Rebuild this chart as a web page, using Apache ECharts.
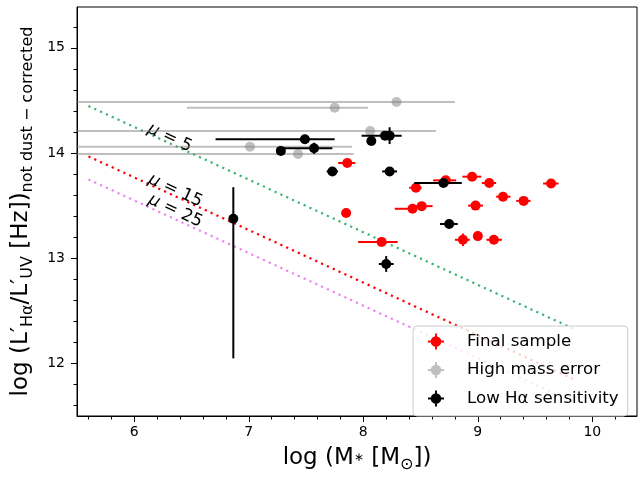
<!DOCTYPE html>
<html><head><meta charset="utf-8">
<script src="https://cdn.jsdelivr.net/npm/echarts@6/dist/echarts.min.js"></script>
<style>html,body{margin:0;padding:0;background:#fff}#c{width:644px;height:478px}</style>
</head><body><div id="c"></div><script>
// ---- Final sample (red) ----
const finalMass        = [7.86, 8.72, 8.46, 8.95, 9.10, 9.64, 9.22, 9.40, 7.85, 8.43, 8.51, 8.98, 8.16, 8.87, 9.00, 9.14];
const finalRatio       = [13.905, 13.74, 13.67, 13.775, 13.715, 13.71, 13.585, 13.545, 13.43, 13.47, 13.495, 13.50, 13.155, 13.175, 13.21, 13.175];
const finalMassErrLow  = [0.08, 0.11, 0.06, 0.085, 0.065, 0.07, 0.06, 0.065, 0, 0.155, 0.05, 0.065, 0.205, 0.07, 0, 0.065];
const finalMassErrHigh = [0.07, 0.09, 0.05, 0.08, 0.06, 0.065, 0.065, 0.06, 0, 0.035, 0.095, 0.065, 0.14, 0.06, 0, 0.07];
const finalRatioErrLow = [0, 0, 0, 0, 0, 0, 0, 0, 0, 0, 0, 0, 0, 0.06, 0, 0];
const finalRatioErrHigh= [0, 0, 0, 0, 0, 0, 0, 0, 0, 0, 0, 0, 0, 0.06, 0, 0];
// ---- High mass error (grey) ----
const highMass        = [8.29, 7.75, 8.06, 7.01, 7.43];
const highRatio       = [14.485, 14.43, 14.21, 14.06, 13.99];
const highMassErrLow  = [3.0, 1.29, 3.0, 2.0, 2.0];
const highMassErrHigh = [0.51, 0.29, 0.575, 0.89, 0.485];
const highRatioErrLow = [0, 0, 0, 0, 0];
const highRatioErrHigh= [0, 0, 0, 0, 0];
// ---- Low Halpha sensitivity (black) ----
const lowMass        = [7.49, 7.57, 7.28, 7.73, 8.23, 8.07, 8.19, 8.23, 8.70, 8.75, 8.20, 6.865];
const lowRatio       = [14.13, 14.045, 14.02, 13.825, 13.825, 14.115, 14.165, 14.165, 13.715, 13.325, 12.945, 13.375];
const lowMassErrLow  = [0.78, 0.275, 0, 0.05, 0.065, 0, 0.205, 0, 0.255, 0.08, 0.065, 0];
const lowMassErrHigh = [0.26, 0.16, 0, 0.05, 0.065, 0, 0.145, 0, 0.16, 0.075, 0.065, 0];
const lowRatioErrLow = [0, 0.053, 0, 0, 0, 0, 0, 0.08, 0, 0, 0.075, 1.327];
const lowRatioErrHigh= [0, 0.053, 0, 0, 0, 0, 0, 0.08, 0, 0, 0.075, 0.30];
// ---- magnification lines ----
const lineMass   = [5.6, 9.85];
const mu5Ratio   = [14.447, 12.322];
const mu15Ratio  = [13.968, 11.843];
const mu25Ratio  = [13.749, 11.624];
const muLabelMass  = [6.31, 6.36, 6.36];
const muLabelRatio = [14.144, 13.643, 13.45];
const muLabelText  = ['5', '15', '25'];
// ---- ticks ----
const xMajorTicks = [6, 7, 8, 9, 10];
const xMinorTicks = [5.6, 5.8, 6.2, 6.4, 6.6, 6.8, 7.2, 7.4, 7.6, 7.8, 8.2, 8.4, 8.6, 8.8, 9.2, 9.4, 9.6, 9.8, 10.2];
const yMajorTicks = [12, 13, 14, 15];
const yMinorTicks = [11.6, 11.8, 12.2, 12.4, 12.6, 12.8, 13.2, 13.4, 13.6, 13.8, 14.2, 14.4, 14.6, 14.8, 15.2];

const FONT = 'DejaVu Sans';

function build(mass, ratio, mlo, mhi, rlo, rhi) {
  return mass.map((m, i) => [m, ratio[i], m - mlo[i], m + mhi[i], ratio[i] - rlo[i], ratio[i] + rhi[i]]);
}
function makeRender(color) {
  return function (params, api) {
    const cs = params.coordSys;
    const X0 = cs.x, X1 = cs.x + cs.width, Y0 = cs.y, Y1 = cs.y + cs.height;
    const cl = (v, a, b) => Math.max(a, Math.min(b, v));
    const c = api.coord([api.value(0), api.value(1)]);
    const xl = api.coord([api.value(2), api.value(1)])[0];
    const xh = api.coord([api.value(3), api.value(1)])[0];
    const yl = api.coord([api.value(0), api.value(4)])[1];
    const yh = api.coord([api.value(0), api.value(5)])[1];
    const ls = { stroke: color, lineWidth: 2, fill: null };
    const ch = [];
    if (xh - xl > 0.5) ch.push({ type: 'line', shape: { x1: cl(xl, X0, X1), y1: c[1], x2: cl(xh, X0, X1), y2: c[1] }, style: ls });
    if (yl - yh > 0.5) ch.push({ type: 'line', shape: { x1: c[0], y1: cl(yl, Y0, Y1), x2: c[0], y2: cl(yh, Y0, Y1) }, style: ls });
    ch.push({ type: 'circle', shape: { cx: c[0], cy: c[1], r: 5 }, style: { fill: color } });
    return { type: 'group', children: ch };
  };
}
const crossIcon = 'path://M0 8.8H20V11.2H0Z M8.8 0H11.2V20H8.8Z M3.4 10A6.6 6.6 0 1 1 16.6 10A6.6 6.6 0 1 1 3.4 10Z';

const RED = '#ff0000', GREY = 'rgba(128,128,128,0.5)', BLACK = '#000000';

function dotLine(name, ys, color) {
  return {
    type: 'line', name: name, data: lineMass.map((m, i) => [m, ys[i]]),
    showSymbol: false, symbol: 'none', silent: true, z: 1,
    lineStyle: { color: color, width: 2.2, type: [2.2, 4.2], cap: 'butt' }
  };
}

const chart = echarts.init(document.getElementById('c'), null, { renderer: 'canvas' });
const axisCommon = {
  type: 'value', splitLine: { show: false },
  axisLine: { show: true, lineStyle: { color: '#000', width: 1 } }
};
const titleRich = {
  m: { fontSize: 23, fontFamily: FONT, color: '#000', lineHeight: 30 },
  s: { fontSize: 16, fontFamily: FONT, color: '#000', lineHeight: 15, verticalAlign: 'bottom' },
  a: { fontSize: 12, fontFamily: FONT, color: '#000', lineHeight: 14, verticalAlign: 'middle' }
};
chart.setOption({
  animation: false,
  backgroundColor: '#fff',
  grid: { left: 77, right: 7, top: 7, bottom: 57, show: true, borderColor: '#000', borderWidth: 1, backgroundColor: 'transparent' },
  xAxis: [
    Object.assign({}, axisCommon, {
      min: 5.5, max: 10.39, position: 'bottom',
      axisTick: { show: true, length: 6, lineStyle: { color: '#000', width: 1 }, customValues: xMajorTicks },
      axisLabel: { show: true, customValues: xMajorTicks, margin: 9, fontSize: 14, color: '#000', fontFamily: FONT, formatter: v => String(v) },
      name: '{m|log (M}{a|∗}{m| [M}{s|⊙}{m|])}', nameLocation: 'middle', nameGap: 27,
      nameTextStyle: { rich: titleRich }
    }),
    Object.assign({}, axisCommon, {
      min: 5.5, max: 10.39, position: 'bottom', axisLine: { show: false },
      axisTick: { show: true, length: 3.5, lineStyle: { color: '#000', width: 1 }, customValues: xMinorTicks },
      axisLabel: { show: false }
    })
  ],
  yAxis: [
    Object.assign({}, axisCommon, {
      min: 11.5, max: 15.388, position: 'left',
      axisTick: { show: true, length: 6, lineStyle: { color: '#000', width: 1 }, customValues: yMajorTicks },
      axisLabel: { show: true, customValues: yMajorTicks, margin: 12, fontSize: 14, color: '#000', fontFamily: FONT, formatter: v => String(v) },
      name: '{m|log (L′}{s|Hα}{m|/L′}{s|UV}{m| [Hz])}{s|not dust − corrected}',
      nameLocation: 'middle', nameGap: 32,
      nameTextStyle: { rich: titleRich }
    }),
    Object.assign({}, axisCommon, {
      min: 11.5, max: 15.388, position: 'left', axisLine: { show: false },
      axisTick: { show: true, length: 3.5, lineStyle: { color: '#000', width: 1 }, customValues: yMinorTicks },
      axisLabel: { show: false }
    })
  ],
  legend: {
    orient: 'vertical', left: 413, top: 326,
    padding: [7, 9, 9, 15], itemWidth: 16, itemHeight: 16, itemGap: 11.5,
    backgroundColor: 'rgba(255,255,255,0.8)', borderColor: '#cccccc', borderWidth: 1, borderRadius: 4,
    textStyle: { fontSize: 16.67, fontFamily: FONT, color: '#000', padding: [0, 0, 0, 18] },
    selectedMode: false,
    data: [
      { name: 'Final sample', icon: crossIcon, itemStyle: { color: RED } },
      { name: 'High mass error', icon: crossIcon, itemStyle: { color: GREY } },
      { name: 'Low Hα sensitivity', icon: crossIcon, itemStyle: { color: BLACK } }
    ]
  },
  series: [
    dotLine('mu5', mu5Ratio, '#3cb371'),
    dotLine('mu15', mu15Ratio, '#ff0000'),
    dotLine('mu25', mu25Ratio, '#ee82ee'),
    {
      type: 'scatter', name: 'muLabels', silent: true, symbolSize: 1, z: 2,
      itemStyle: { color: 'rgba(255,255,255,0)', opacity: 1 },
      data: muLabelMass.map((m, i) => [m, muLabelRatio[i]]),
      label: {
        show: true, position: 'inside', rotate: -25, opacity: 1,
        textBorderWidth: 0, textShadowBlur: 0,
        formatter: p => '{i|μ}{n| = ' + muLabelText[p.dataIndex] + '}',
        rich: {
          i: { fontSize: 17, fontFamily: FONT, fontStyle: 'italic', color: '#000', textBorderWidth: 0 },
          n: { fontSize: 17, fontFamily: FONT, color: '#000', textBorderWidth: 0 }
        }
      }
    },
    { type: 'custom', name: 'Final sample', silent: true, z: 3, itemStyle: { color: RED },
      data: build(finalMass, finalRatio, finalMassErrLow, finalMassErrHigh, finalRatioErrLow, finalRatioErrHigh),
      encode: { x: [0, 2, 3], y: [1, 4, 5] }, renderItem: makeRender(RED) },
    { type: 'custom', name: 'High mass error', silent: true, z: 3, itemStyle: { color: GREY },
      data: build(highMass, highRatio, highMassErrLow, highMassErrHigh, highRatioErrLow, highRatioErrHigh),
      encode: { x: [0, 2, 3], y: [1, 4, 5] }, renderItem: makeRender(GREY) },
    { type: 'custom', name: 'Low Hα sensitivity', silent: true, z: 3, itemStyle: { color: BLACK },
      data: build(lowMass, lowRatio, lowMassErrLow, lowMassErrHigh, lowRatioErrLow, lowRatioErrHigh),
      encode: { x: [0, 2, 3], y: [1, 4, 5] }, renderItem: makeRender(BLACK) }
  ]
});
</script></body></html>
